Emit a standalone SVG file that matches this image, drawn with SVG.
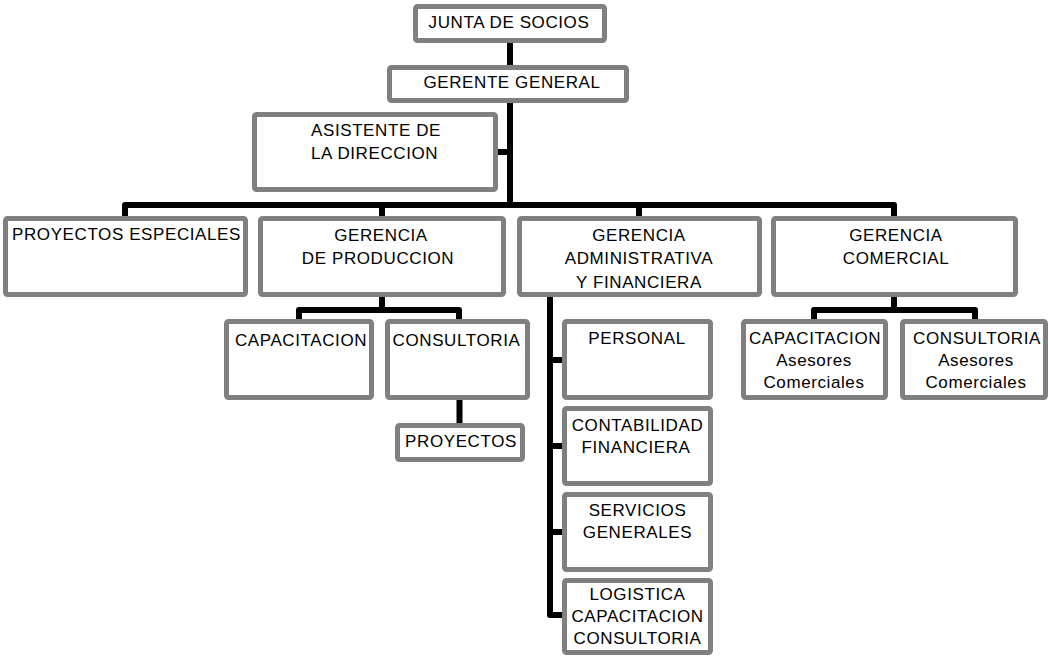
<svg xmlns="http://www.w3.org/2000/svg" width="1050" height="656" viewBox="0 0 1050 656">
<style>
.box{fill:#fff;stroke:#808080;stroke-width:5;}
.c{fill:none;stroke:#000;stroke-width:6;stroke-linejoin:round;}
text{font-family:"Liberation Sans",Arial,sans-serif;font-size:17px;letter-spacing:0.6px;fill:#000;}
.m{text-anchor:middle;}
</style>
<rect width="1050" height="656" fill="#fff"/>
<g id="connectors">
<path class="c" d="M510,43 V205"/>
<path class="c" d="M497,152 H510"/>
<path class="c" d="M125,217 V205 H894 V217"/>
<path class="c" d="M382,205 V217"/>
<path class="c" d="M639,205 V217"/>
<path class="c" d="M382,296 V310"/>
<path class="c" d="M299,320 V310 H459 V320"/>
<path class="c" d="M459.5,399 V424"/>
<path class="c" d="M550,296 V615 H563"/>
<path class="c" d="M550,360 H563"/>
<path class="c" d="M550,446 H563"/>
<path class="c" d="M550,532 H563"/>
<path class="c" d="M894,296 V310"/>
<path class="c" d="M814,320 V310 H975 V320"/>
</g>
<g id="junta">
<rect class="box" x="415.5" y="6.5" width="189" height="34" rx="2"/>
<text class="m" x="509" y="28">JUNTA DE SOCIOS</text>
</g>
<g id="gerente">
<rect class="box" x="389.5" y="67.5" width="237" height="33" rx="2"/>
<text class="m" x="512" y="88">GERENTE GENERAL</text>
</g>
<g id="asistente">
<rect class="box" x="254.5" y="114.5" width="241" height="75" rx="2"/>
<text x="311" y="136">ASISTENTE DE</text>
<text x="311" y="158.5">LA DIRECCION</text>
</g>
<g id="proyectos-especiales">
<rect class="box" x="5.5" y="218.5" width="240" height="76" rx="2"/>
<text x="12" y="239.5">PROYECTOS ESPECIALES</text>
</g>
<g id="gerencia-produccion">
<rect class="box" x="260.5" y="218.5" width="243" height="76" rx="2"/>
<text class="m" x="381" y="240.5">GERENCIA</text>
<text class="m" x="378" y="263.5">DE PRODUCCION</text>
</g>
<g id="gerencia-administrativa">
<rect class="box" x="519.5" y="218.5" width="240" height="76" rx="2"/>
<text class="m" x="639" y="241">GERENCIA</text>
<text class="m" x="639" y="264.3">ADMINISTRATIVA</text>
<text class="m" x="639" y="287.6">Y FINANCIERA</text>
</g>
<g id="gerencia-comercial">
<rect class="box" x="773.5" y="218.5" width="242" height="76" rx="2"/>
<text class="m" x="896" y="241">GERENCIA</text>
<text class="m" x="896" y="264.3">COMERCIAL</text>
</g>
<g id="capacitacion-prod">
<rect class="box" x="226.5" y="321.5" width="145" height="76" rx="2"/>
<text class="m" x="301" y="346">CAPACITACION</text>
</g>
<g id="consultoria-prod">
<rect class="box" x="387.5" y="321.5" width="140" height="76" rx="2"/>
<text class="m" x="456.5" y="346">CONSULTORIA</text>
</g>
<g id="proyectos">
<rect class="box" x="397.5" y="425.5" width="125" height="34" rx="2"/>
<text class="m" x="461" y="447">PROYECTOS</text>
</g>
<g id="personal">
<rect class="box" x="564.5" y="321.5" width="146" height="76" rx="2"/>
<text class="m" x="637" y="344">PERSONAL</text>
</g>
<g id="contabilidad">
<rect class="box" x="564.5" y="408.5" width="146" height="75" rx="2"/>
<text class="m" x="637.5" y="431">CONTABILIDAD</text>
<text class="m" x="636" y="453">FINANCIERA</text>
</g>
<g id="servicios">
<rect class="box" x="564.5" y="494.5" width="146" height="75" rx="2"/>
<text class="m" x="637.5" y="516">SERVICIOS</text>
<text class="m" x="637.5" y="537.5">GENERALES</text>
</g>
<g id="logistica">
<rect class="box" x="564.5" y="580.5" width="146" height="72" rx="2"/>
<text class="m" x="637.5" y="599.5">LOGISTICA</text>
<text class="m" x="637.5" y="621.5">CAPACITACION</text>
<text class="m" x="637.5" y="643.5">CONSULTORIA</text>
</g>
<g id="capacitacion-comercial">
<rect class="box" x="743.5" y="321.5" width="142" height="76" rx="2"/>
<text class="m" x="815" y="344">CAPACITACION</text>
<text class="m" x="814" y="366">Asesores</text>
<text class="m" x="814" y="387.5">Comerciales</text>
</g>
<g id="consultoria-comercial">
<rect class="box" x="902.5" y="321.5" width="143" height="76" rx="2"/>
<text class="m" x="977" y="344">CONSULTORIA</text>
<text class="m" x="976" y="366">Asesores</text>
<text class="m" x="976" y="387.5">Comerciales</text>
</g>
</svg>
